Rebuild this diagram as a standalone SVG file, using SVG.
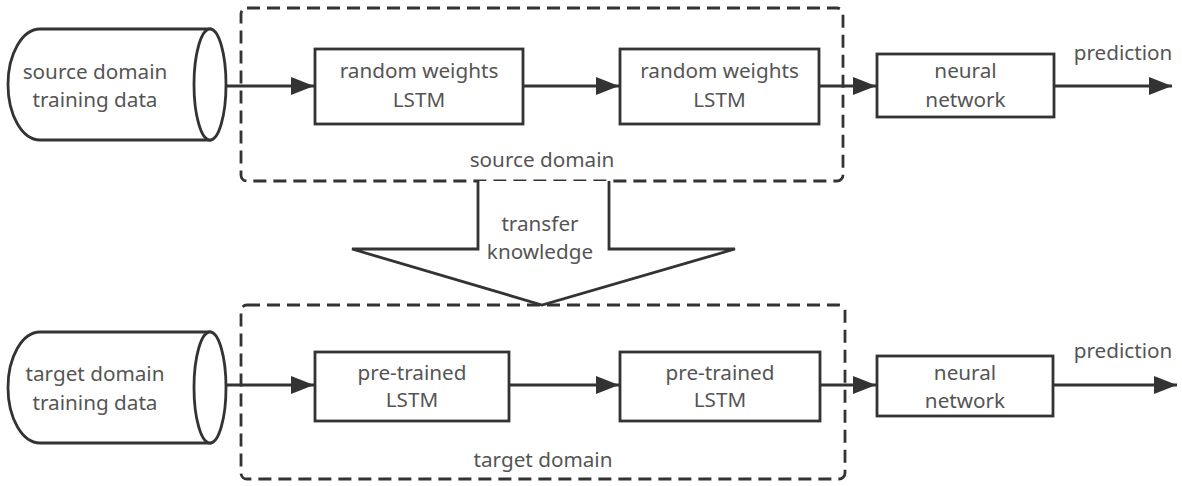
<svg xmlns="http://www.w3.org/2000/svg" width="1182" height="486" viewBox="0 0 1182 486">
<style>
.shape{fill:#fff;stroke:#333;stroke-width:2.8}
.dash{fill:none;stroke:#333;stroke-width:2.8;stroke-dasharray:13 7}
.conn{fill:none;stroke:#333;stroke-width:2.8}
text{font-family:"Noto Sans","Liberation Sans",sans-serif;font-size:20.7px;fill:#555;text-anchor:middle}
</style>
<defs>
<marker id="ah" markerUnits="userSpaceOnUse" viewBox="0 0 23 18" refX="23" refY="9" markerWidth="23" markerHeight="18" orient="auto">
<path d="M0,0 L23,9 L0,18 Z" fill="#333"/>
</marker>
</defs>
<rect fill="#fff" width="1182" height="486"/>

<g id="source-domain-group">
<rect class="dash" x="241" y="8" width="602" height="173" rx="6"/>
<text x="542" y="167">source domain</text>
</g>
<g id="target-domain-group">
<rect class="dash" x="241" y="305" width="604" height="174" rx="6"/>
<text x="543" y="467">target domain</text>
</g>

<g id="source-data">
<path class="shape" d="M40,29 H210 V140 H40 A32,55.5 0 0 1 40,29 Z"/>
<ellipse class="shape" cx="210" cy="84.5" rx="16" ry="55.5"/>
<text x="95" y="79">source domain</text>
<text x="95" y="107">training data</text>
</g>
<g id="src-lstm1">
<rect class="shape" x="315" y="49" width="208" height="75"/>
<text x="419" y="78">random weights</text>
<text x="419" y="107">LSTM</text>
</g>
<g id="src-lstm2">
<rect class="shape" x="620" y="49" width="199" height="75"/>
<text x="719.5" y="78">random weights</text>
<text x="719.5" y="107">LSTM</text>
</g>
<g id="src-nn">
<rect class="shape" x="877" y="54" width="177" height="63"/>
<text x="965.5" y="78">neural</text>
<text x="965.5" y="107">network</text>
</g>
<g id="src-pred-label">
<text x="1123" y="60">prediction</text>
</g>

<g id="transfer">
<path class="shape" d="M478,181 V249 H352 L542,305 L735,249 H609 V181"/>
<text x="540" y="231">transfer</text>
<text x="540" y="259">knowledge</text>
</g>

<g id="target-data">
<path class="shape" d="M40,332 H210 V443 H40 A32,55.5 0 0 1 40,332 Z"/>
<ellipse class="shape" cx="210" cy="387.5" rx="16" ry="55.5"/>
<text x="95" y="381">target domain</text>
<text x="95" y="410">training data</text>
</g>
<g id="tgt-lstm1">
<rect class="shape" x="315" y="352" width="194" height="69"/>
<text x="412" y="380">pre-trained</text>
<text x="412" y="407">LSTM</text>
</g>
<g id="tgt-lstm2">
<rect class="shape" x="620" y="352" width="200" height="69"/>
<text x="720" y="380">pre-trained</text>
<text x="720" y="407">LSTM</text>
</g>
<g id="tgt-nn">
<rect class="shape" x="877" y="356" width="176" height="60"/>
<text x="965" y="380">neural</text>
<text x="965" y="408">network</text>
</g>
<g id="tgt-pred-label">
<text x="1123" y="358">prediction</text>
</g>

<g id="connectors">
<line class="conn" x1="226" y1="86" x2="314" y2="86" marker-end="url(#ah)"/>
<line class="conn" x1="523" y1="86" x2="619" y2="86" marker-end="url(#ah)"/>
<line class="conn" x1="819" y1="86" x2="876" y2="86" marker-end="url(#ah)"/>
<line class="conn" x1="1054" y1="86" x2="1172" y2="86" marker-end="url(#ah)"/>
<line class="conn" x1="226" y1="385" x2="314" y2="385" marker-end="url(#ah)"/>
<line class="conn" x1="509" y1="385" x2="619" y2="385" marker-end="url(#ah)"/>
<line class="conn" x1="820" y1="385" x2="876" y2="385" marker-end="url(#ah)"/>
<line class="conn" x1="1053" y1="385" x2="1177" y2="385" marker-end="url(#ah)"/>
</g>
</svg>
